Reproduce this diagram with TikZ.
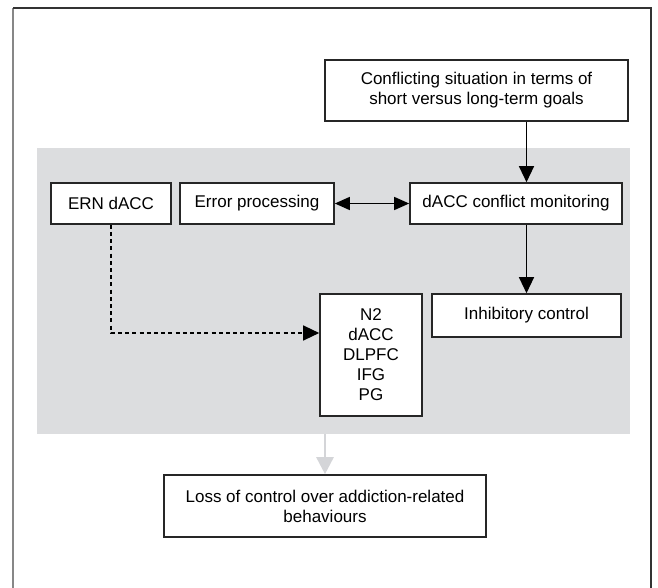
\documentclass[tikz,border=0pt]{standalone}
\usepackage{fontspec}
\setmainfont{Liberation Sans}
\usetikzlibrary{arrows.meta}
\definecolor{panelgray}{RGB}{220,221,223}
\definecolor{arrowgray}{RGB}{212,213,216}
\definecolor{framegray}{RGB}{135,135,135}

\begin{document}
\begin{tikzpicture}[x=0.5pt,y=-0.5pt,
    box/.style={draw=black!85, line width=0.8pt, fill=white, inner sep=0pt,
        align=center, font=\fontsize{8.5}{10}\selectfont},
    arr/.style={line width=0.65pt, -{Triangle[length=8pt,width=7.5pt]}},
    dblarr/.style={line width=0.65pt, {Triangle[length=7.5pt,width=6.5pt]}-{Triangle[length=7.5pt,width=6.5pt]}},
    ]
    \useasboundingbox (0,0) rectangle (658,588);
    % Outer frame, open at the bottom
    \draw[framegray, line width=1pt] (13,588) -- (13,8);
    \draw[black!80, line width=1pt] (13,8) -- (651,8) -- (651,588);
    % Shaded panel
    \node[fill=panelgray, inner sep=0pt, minimum width=296.5pt, minimum height=143pt] (panel) at (333.5,291) {};
    % Boxes
    \node[box, minimum width=151.5pt, minimum height=30.5pt] (conflict) at (476.5,90.5)
        {Conflicting situation in terms of\\short versus long-term goals};
    \node[box, minimum width=60pt, minimum height=20.5pt] (ern) at (111,203.5) {ERN dACC};
    \node[box, minimum width=77pt, minimum height=20.5pt] (errproc) at (257,203.5) {Error processing};
    \node[box, minimum width=106pt, minimum height=20.5pt] (dacc) at (516,203.5) {dACC conflict monitoring};
    \node[box, minimum width=94.5pt, minimum height=21.5pt] (inhib) at (526.5,315.5) {Inhibitory control};
    \node[box, minimum width=51pt, minimum height=61pt] (regions) at (371,355) {N2\\dACC\\DLPFC\\IFG\\PG};
    \node[box, minimum width=161pt, minimum height=31pt] (loss) at (325,506)
        {Loss of control over addiction-related\\behaviours};
    % Connectors
    \draw[arr] (conflict.south -| inhib.north) -- (dacc.north -| inhib.north);
    \draw[arr] (dacc.south -| inhib.north) -- (inhib.north);
    \draw[dblarr] (errproc.east) -- (dacc.west);
    \draw[arr, dash pattern=on 2pt off 1.6pt] (ern.south) |- ([yshift=11pt]regions.west);
    \draw[arrowgray, line width=1.3pt, -{Triangle[length=8.5pt,width=8.5pt]}] (panel.south -| loss.north) -- (loss.north);
\end{tikzpicture}
\end{document}
